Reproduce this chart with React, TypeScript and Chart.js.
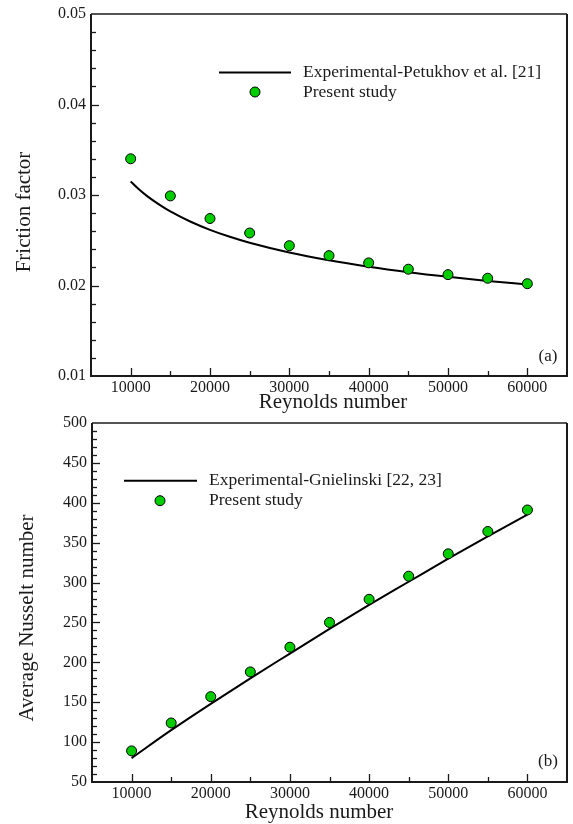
import React, { useEffect, useRef } from 'react';
import { Chart, registerables } from 'chart.js';

Chart.register(...registerables);

const SERIF = "'Liberation Serif', 'Times New Roman', serif";
const GREEN = '#00cc00';
const INK = '#1a1a1a';

// Reynolds numbers of the simulated cases
const reynolds = [10000, 15000, 20000, 25000, 30000, 35000, 40000, 45000, 50000, 55000, 60000];

// (a) friction factor
const frictionPresent = [0.034, 0.0299, 0.0274, 0.0258, 0.0244, 0.0233, 0.0225, 0.0218, 0.0212, 0.0208, 0.0202];
const petukhovRe = [10000, 11000, 12000, 13000, 14000, 15000, 17500, 20000, 22500, 25000, 30000, 35000, 40000, 45000, 50000, 55000, 60000];
const frictionPetukhov = [0.0315, 0.03066, 0.02993, 0.02929, 0.02871, 0.02818, 0.02707, 0.02615, 0.02538, 0.02472, 0.02364, 0.02278, 0.02207, 0.02147, 0.02096, 0.02051, 0.02011];

// (b) average Nusselt number
const nusseltPresent = [89, 124, 157, 188, 219, 250, 279, 308, 336, 364, 391];
const gnielinskiRe = [10000, 15000, 20000, 25000, 30000, 35000, 40000, 45000, 50000, 55000, 60000];
const nusseltGnielinski = [80, 115, 148, 180, 211, 242, 272, 301, 330, 358, 385];

// axis ticks
const reynoldsTicks = [10000, 20000, 30000, 40000, 50000, 60000];
const frictionTicks = [0.01, 0.02, 0.03, 0.04, 0.05];
const nusseltTicks = [50, 100, 150, 200, 250, 300, 350, 400, 450, 500];

type Decor = {
  xMinor: number; // minor tick spacing on x
  yMinor: number; // minor tick spacing on y
  xMajor: number;
  yMajor: number;
  yTitle: string;
  yTitleAt: [number, number];
  xTitle: string;
  xTitleAt: [number, number];
  legendLine: [number, number, number];
  legendDot: [number, number];
  legendTextX: number;
  legendLineText: string;
  legendDotText: string;
  panel: string;
  panelAt: [number, number];
};

const decorPlugin = {
  id: 'decor',
  afterDraw(chart: any, _args: any, d: Decor) {
    const { ctx, chartArea: a, scales } = chart;
    const xs = scales.x;
    const ys = scales.y;
    ctx.save();

    // inward tick marks, major and minor
    ctx.strokeStyle = INK;
    ctx.lineWidth = 1.3;
    const onStep = (v: number, step: number) => Math.abs(v / step - Math.round(v / step)) < 1e-6;
    const nx = Math.round((xs.max - xs.min) / d.xMinor);
    for (let i = 1; i < nx; i++) {
      const v = xs.min + i * d.xMinor;
      const px = Math.round(xs.getPixelForValue(v)) + 0.5;
      const len = onStep(v, d.xMajor) ? 8 : 5;
      ctx.beginPath();
      ctx.moveTo(px, a.bottom);
      ctx.lineTo(px, a.bottom - len);
      ctx.stroke();
    }
    const ny = Math.round((ys.max - ys.min) / d.yMinor);
    for (let i = 1; i < ny; i++) {
      const v = ys.min + i * d.yMinor;
      const py = Math.round(ys.getPixelForValue(v)) + 0.5;
      const len = onStep(v, d.yMajor) ? 8 : 5;
      ctx.beginPath();
      ctx.moveTo(a.left, py);
      ctx.lineTo(a.left + len, py);
      ctx.stroke();
    }

    // plot frame
    ctx.lineWidth = 2;
    ctx.strokeStyle = '#555';
    ctx.beginPath();
    ctx.moveTo(a.left, a.top);
    ctx.lineTo(a.right, a.top);
    ctx.stroke();
    ctx.strokeStyle = INK;
    ctx.beginPath();
    ctx.moveTo(a.right, a.top);
    ctx.lineTo(a.right, a.bottom);
    ctx.lineTo(a.left, a.bottom);
    ctx.lineTo(a.left, a.top);
    ctx.stroke();

    // axis titles
    ctx.fillStyle = INK;
    ctx.font = `21px ${SERIF}`;
    ctx.textAlign = 'center';
    ctx.textBaseline = 'middle';
    ctx.fillText(d.xTitle, d.xTitleAt[0], d.xTitleAt[1]);
    ctx.save();
    ctx.translate(d.yTitleAt[0], d.yTitleAt[1]);
    ctx.rotate(-Math.PI / 2);
    ctx.fillText(d.yTitle, 0, 0);
    ctx.restore();

    // legend
    ctx.strokeStyle = '#000';
    ctx.lineWidth = 2;
    ctx.beginPath();
    ctx.moveTo(d.legendLine[0], d.legendLine[2]);
    ctx.lineTo(d.legendLine[1], d.legendLine[2]);
    ctx.stroke();
    ctx.fillStyle = GREEN;
    ctx.lineWidth = 1;
    ctx.beginPath();
    ctx.arc(d.legendDot[0], d.legendDot[1], 5, 0, Math.PI * 2);
    ctx.fill();
    ctx.stroke();
    ctx.fillStyle = INK;
    ctx.font = `17.5px ${SERIF}`;
    ctx.textAlign = 'left';
    ctx.fillText(d.legendLineText, d.legendTextX, d.legendLine[2]);
    ctx.fillText(d.legendDotText, d.legendTextX, d.legendDot[1]);

    // panel tag
    ctx.font = `17px ${SERIF}`;
    ctx.textAlign = 'center';
    ctx.fillText(d.panel, d.panelAt[0], d.panelAt[1]);
    ctx.restore();
  },
};

type PanelSpec = {
  height: number;
  padTop: number;
  plotBottom: number;
  axisLeft: number;
  yMin: number;
  yMax: number;
  yTicks: number[];
  yFormat: (v: number) => string;
  points: number[];
  lineRe: number[];
  line: number[];
  decor: Decor;
};

function buildConfig(p: PanelSpec): any {
  const tickFont = { family: SERIF, size: 16 };
  return {
    type: 'scatter',
    data: {
      datasets: [
        {
          label: p.decor.legendDotText,
          data: reynolds.map((x, i) => ({ x, y: p.points[i] })),
          showLine: false,
          pointRadius: 5,
          pointBackgroundColor: GREEN,
          pointBorderColor: '#000',
          pointBorderWidth: 1,
          order: 0,
        },
        {
          label: p.decor.legendLineText,
          data: p.lineRe.map((x, i) => ({ x, y: p.line[i] })),
          showLine: true,
          borderColor: '#000',
          borderWidth: 2,
          pointRadius: 0,
          cubicInterpolationMode: 'monotone',
          fill: false,
          order: 1,
        },
      ],
    },
    options: {
      responsive: false,
      animation: false,
      devicePixelRatio: 1,
      events: [],
      layout: { padding: { top: p.padTop, right: 1, left: 0, bottom: 0 } },
      plugins: {
        legend: { display: false },
        tooltip: { enabled: false },
        decor: p.decor,
      },
      scales: {
        x: {
          type: 'linear',
          min: 5000,
          max: 65000,
          grid: { display: false, drawTicks: false },
          border: { display: false },
          ticks: {
            font: tickFont,
            color: INK,
            padding: 2,
            maxRotation: 0,
            autoSkip: false,
            callback: (v: number) => String(v),
          },
          afterBuildTicks: (s: any) => {
            s.ticks = reynoldsTicks.map((value) => ({ value }));
          },
          afterFit: (s: any) => {
            s.height = p.height - p.plotBottom;
            s.paddingLeft = 0;
            s.paddingRight = 0;
          },
        },
        y: {
          type: 'linear',
          min: p.yMin,
          max: p.yMax,
          grid: { display: false, drawTicks: false },
          border: { display: false },
          ticks: {
            font: tickFont,
            color: INK,
            padding: 5,
            autoSkip: false,
            callback: (v: number) => p.yFormat(v),
          },
          afterBuildTicks: (s: any) => {
            s.ticks = p.yTicks.map((value) => ({ value }));
          },
          afterFit: (s: any) => {
            s.width = p.axisLeft;
            s.paddingTop = 0;
            s.paddingBottom = 0;
          },
        },
      },
    },
    plugins: [decorPlugin],
  };
}

const frictionPanel: PanelSpec = {
  height: 414,
  padTop: 14,
  plotBottom: 376,
  axisLeft: 91,
  yMin: 0.01,
  yMax: 0.05,
  yTicks: frictionTicks,
  yFormat: (v) => v.toFixed(2),
  points: frictionPresent,
  lineRe: petukhovRe,
  line: frictionPetukhov,
  decor: {
    xMinor: 5000,
    yMinor: 0.002,
    xMajor: 10000,
    yMajor: 0.01,
    yTitle: 'Friction factor',
    yTitleAt: [24.5, 212],
    xTitle: 'Reynolds number',
    xTitleAt: [333, 402],
    legendLine: [219, 291, 72.5],
    legendDot: [255, 92],
    legendTextX: 303,
    legendLineText: 'Experimental-Petukhov et al. [21]',
    legendDotText: 'Present study',
    panel: '(a)',
    panelAt: [548, 356.5],
  },
};

const nusseltPanel: PanelSpec = {
  height: 410,
  padTop: 9,
  plotBottom: 368,
  axisLeft: 92,
  yMin: 50,
  yMax: 500,
  yTicks: nusseltTicks,
  yFormat: (v) => String(v),
  points: nusseltPresent,
  lineRe: gnielinskiRe,
  line: nusseltGnielinski,
  decor: {
    xMinor: 5000,
    yMinor: 10,
    xMajor: 10000,
    yMajor: 50,
    yTitle: 'Average Nusselt number',
    yTitleAt: [27, 204],
    xTitle: 'Reynolds number',
    xTitleAt: [319, 398],
    legendLine: [124, 197, 66.7],
    legendDot: [160, 86.7],
    legendTextX: 209,
    legendLineText: 'Experimental-Gnielinski [22, 23]',
    legendDotText: 'Present study',
    panel: '(b)',
    panelAt: [548, 348],
  },
};

function Panel({ spec, top }: { spec: PanelSpec; top: number }) {
  const ref = useRef<HTMLCanvasElement>(null);
  useEffect(() => {
    const chart = new Chart(ref.current as HTMLCanvasElement, buildConfig(spec));
    return () => chart.destroy();
  }, [spec]);
  return (
    <canvas
      ref={ref}
      width={573}
      height={spec.height}
      style={{ position: 'absolute', left: 0, top, width: 573, height: spec.height, display: 'block' }}
    />
  );
}

export default function App() {
  return (
    <div style={{ position: 'absolute', left: 0, top: 0, width: 573, height: 824, background: '#fff', overflow: 'hidden' }}>
      <Panel spec={frictionPanel} top={0} />
      <Panel spec={nusseltPanel} top={414} />
    </div>
  );
}
